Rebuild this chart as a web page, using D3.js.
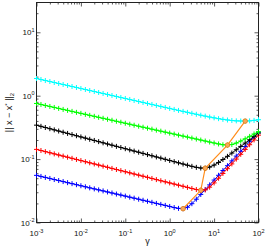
<!DOCTYPE html>
<html>
<head>
<meta charset="utf-8">
<script src="https://cdn.jsdelivr.net/npm/d3@7"></script>
<style>
    body { margin: 0; background: #fff; }
    svg { display: block; font-family: "Liberation Sans", Arial, sans-serif; }
</style>
</head>
<body>
<div id="chart"></div>
<script>
// 正则化参数 gamma（对数网格，每十倍 10 个点）
const gamma = [
    0.001, 0.00126, 0.00158, 0.002, 0.00251, 0.00316, 0.00398, 0.00501, 0.00631, 0.00794,
    0.01, 0.0126, 0.0158, 0.02, 0.0251, 0.0316, 0.0398, 0.0501, 0.0631, 0.0794,
    0.1, 0.126, 0.158, 0.2, 0.251, 0.316, 0.398, 0.501, 0.631, 0.794,
    1, 1.26, 1.58, 2, 2.51, 3.16, 3.98, 5.01, 6.31, 7.94,
    10, 12.6, 15.8, 20, 25.1, 31.6, 39.8, 50.1, 63.1, 79.4, 100
];

// 误差 || x - x* ||_2
const errBlue = [
    0.0554, 0.0533, 0.0514, 0.0495, 0.0476, 0.0459, 0.0442, 0.0425, 0.0410, 0.0395,
    0.0380, 0.0366, 0.0352, 0.0339, 0.0327, 0.0315, 0.0303, 0.0292, 0.0281, 0.0271,
    0.0261, 0.0251, 0.0242, 0.0233, 0.0224, 0.0216, 0.0208, 0.0200, 0.0193, 0.0186,
    0.0179, 0.0172, 0.0167, 0.0165, 0.0174, 0.0198, 0.0233, 0.0277, 0.0330, 0.0392,
    0.0467, 0.0555, 0.0661, 0.0787, 0.0936, 0.1114, 0.1326, 0.1578, 0.1878, 0.2236, 0.2661
];
const errRed = [
    0.1423, 0.1366, 0.1312, 0.1260, 0.1209, 0.1161, 0.1115, 0.1071, 0.1028, 0.0987,
    0.0948, 0.0910, 0.0874, 0.0839, 0.0806, 0.0774, 0.0743, 0.0713, 0.0685, 0.0658,
    0.0632, 0.0607, 0.0582, 0.0559, 0.0537, 0.0516, 0.0495, 0.0475, 0.0456, 0.0438,
    0.0421, 0.0404, 0.0388, 0.0373, 0.0358, 0.0344, 0.0331, 0.0322, 0.0327, 0.0361,
    0.0421, 0.0499, 0.0593, 0.0706, 0.0840, 0.1000, 0.1190, 0.1416, 0.1686, 0.2006, 0.2388
];
const errBlack = [
    0.3431, 0.3287, 0.3149, 0.3017, 0.2891, 0.2770, 0.2654, 0.2543, 0.2436, 0.2335,
    0.2237, 0.2143, 0.2053, 0.1967, 0.1885, 0.1806, 0.1730, 0.1658, 0.1589, 0.1522,
    0.1458, 0.1397, 0.1338, 0.1283, 0.1229, 0.1177, 0.1128, 0.1081, 0.1036, 0.0992,
    0.0951, 0.0911, 0.0873, 0.0836, 0.0801, 0.0769, 0.0741, 0.0723, 0.0718, 0.0748,
    0.0805, 0.0885, 0.0985, 0.1105, 0.1245, 0.1405, 0.1585, 0.1790, 0.2020, 0.2280, 0.2570
];
const errGreen = [
    0.7539, 0.7273, 0.7015, 0.6768, 0.6529, 0.6298, 0.6077, 0.5863, 0.5655, 0.5457,
    0.5264, 0.5078, 0.4899, 0.4727, 0.4560, 0.4399, 0.4244, 0.4095, 0.3950, 0.3811,
    0.3676, 0.3547, 0.3421, 0.3301, 0.3184, 0.3072, 0.2964, 0.2859, 0.2758, 0.2661,
    0.2568, 0.2477, 0.2390, 0.2306, 0.2224, 0.2146, 0.2070, 0.1997, 0.1927, 0.1858,
    0.1794, 0.1734, 0.1684, 0.1664, 0.1700, 0.1790, 0.1925, 0.2090, 0.2280, 0.2490, 0.2710
];
const errCyan = [
    1.866, 1.800, 1.736, 1.674, 1.614, 1.557, 1.502, 1.448, 1.396, 1.347,
    1.299, 1.252, 1.208, 1.165, 1.123, 1.083, 1.045, 1.008, 0.9716, 0.9369,
    0.9036, 0.8715, 0.8403, 0.8102, 0.7816, 0.7539, 0.7271, 0.7015, 0.6765, 0.6524,
    0.6294, 0.6072, 0.5859, 0.5653, 0.5457, 0.5269, 0.5090, 0.4919, 0.4760, 0.4609,
    0.4471, 0.4345, 0.4233, 0.4138, 0.4062, 0.4009, 0.3990, 0.3975, 0.4011, 0.4076, 0.4177
];

const seriesList = [
    { values: errBlue,  color: '#0000ff' },
    { values: errRed,   color: '#ff0000' },
    { values: errBlack, color: '#000000' },
    { values: errGreen, color: '#00ff00' },
    { values: errCyan,  color: '#00ffff' }
];

// 刻度
const xMajor = [1e-3, 1e-2, 1e-1, 1e0, 1e1, 1e2];
const xExp = ['-3', '-2', '-1', '0', '1', '2'];
const yMajor = [1e-2, 1e-1, 1e0, 1e1];
const yExp = ['-2', '-1', '0', '1'];

const width = 266, height = 249;
const mLeft = 36.5, mRight = 258.5, mTop = 2.5, mBottom = 222.5;

const svg = d3.select('#chart').append('svg')
    .attr('width', width)
    .attr('height', height);

const x = d3.scaleLog().domain([1e-3, 1e2]).range([mLeft, mRight]);
const y = d3.scaleLog().domain([1e-2, 29.5]).range([mBottom, mTop]);

// 次刻度 2..9
function minorTicks(majors) {
    const out = [];
    majors.slice(0, -1).forEach(m => {
        for (let k = 2; k <= 9; k++) out.push(m * k);
    });
    return out;
}
const yMinor = minorTicks(yMajor.concat([1e2])).filter(v => v < 29.5);
const xMinor = minorTicks(xMajor);

function drawTicks(axisFn, scale, values, size, transform) {
    const g = svg.append('g')
        .attr('transform', transform)
        .call(axisFn(scale).tickValues(values).tickSize(-size).tickFormat(''));
    g.select('.domain').remove();
    g.selectAll('line').attr('stroke', '#333').attr('stroke-width', 0.8);
}

drawTicks(d3.axisBottom, x, xMajor, 4, `translate(0,${mBottom})`);
drawTicks(d3.axisBottom, x, xMinor, 2, `translate(0,${mBottom})`);
drawTicks(d3.axisTop, x, xMajor, 4, `translate(0,${mTop})`);
drawTicks(d3.axisTop, x, xMinor, 2, `translate(0,${mTop})`);
drawTicks(d3.axisLeft, y, yMajor, 4, `translate(${mLeft},0)`);
drawTicks(d3.axisLeft, y, yMinor, 2, `translate(${mLeft},0)`);
drawTicks(d3.axisRight, y, yMajor, 4, `translate(${mRight},0)`);
drawTicks(d3.axisRight, y, yMinor, 2, `translate(${mRight},0)`);

// 坐标框
svg.append('rect')
    .attr('x', mLeft).attr('y', mTop)
    .attr('width', mRight - mLeft).attr('height', mBottom - mTop)
    .attr('fill', 'none').attr('stroke', '#222').attr('stroke-width', 1);

// 曲线 + 十字标记
const line = d3.line()
    .x((d, i) => x(gamma[i]))
    .y(d => y(d));

seriesList.forEach(s => {
    svg.append('path')
        .datum(s.values)
        .attr('d', line)
        .attr('fill', 'none')
        .attr('stroke', s.color)
        .attr('stroke-width', 1);

    svg.append('g').selectAll('path')
        .data(s.values)
        .enter()
        .append('path')
        .attr('d', (d, i) => {
            const cx = x(gamma[i]), cy = y(d), r = 2.5;
            return `M${cx - r},${cy}H${cx + r}M${cx},${cy - r}V${cy + r}`;
        })
        .attr('stroke', s.color)
        .attr('stroke-width', 1);
});

// 每条曲线的最小值连线（橙色）
const minPoints = seriesList.map(s => {
    const i = d3.minIndex(s.values);
    return [gamma[i], s.values[i]];
});

svg.append('path')
    .datum(minPoints)
    .attr('d', d3.line().x(d => x(d[0])).y(d => y(d[1])))
    .attr('fill', 'none')
    .attr('stroke', '#ff8c1a')
    .attr('stroke-width', 1.2);

svg.append('g').selectAll('circle')
    .data(minPoints)
    .enter()
    .append('circle')
    .attr('cx', d => x(d[0]))
    .attr('cy', d => y(d[1]))
    .attr('r', 2.3)
    .attr('fill', '#f7a95a')
    .attr('stroke', '#e07b10')
    .attr('stroke-width', 0.8);

// 刻度标签 10^n
function powLabel(t, exp) {
    t.append('tspan').text('10').attr('font-size', 8);
    t.append('tspan').text(exp).attr('font-size', 5.5).attr('dy', -3.5);
}

xMajor.forEach((v, i) => {
    const t = svg.append('text')
        .attr('x', x(v))
        .attr('y', 236)
        .attr('text-anchor', 'middle')
        .attr('fill', '#111');
    powLabel(t, xExp[i]);
});

yMajor.forEach((v, i) => {
    const t = svg.append('text')
        .attr('x', 34.5)
        .attr('y', y(v) + 3)
        .attr('text-anchor', 'end')
        .attr('fill', '#111');
    powLabel(t, yExp[i]);
});

// 轴标题
svg.append('text')
    .attr('x', (mLeft + mRight) / 2)
    .attr('y', 244)
    .attr('text-anchor', 'middle')
    .attr('font-size', 9)
    .attr('fill', '#111')
    .text('γ');

const yl = svg.append('text')
    .attr('transform', `translate(12,${(mTop + mBottom) / 2}) rotate(-90)`)
    .attr('text-anchor', 'middle')
    .attr('font-size', 9)
    .attr('fill', '#111');
yl.append('tspan').text('|| x − x');
yl.append('tspan').text('*').attr('font-size', 6).attr('dy', -3.5);
yl.append('tspan').text(' ||').attr('dy', 3.5);
yl.append('tspan').text('2').attr('font-size', 6).attr('dy', 2);
</script>
</body>
</html>
